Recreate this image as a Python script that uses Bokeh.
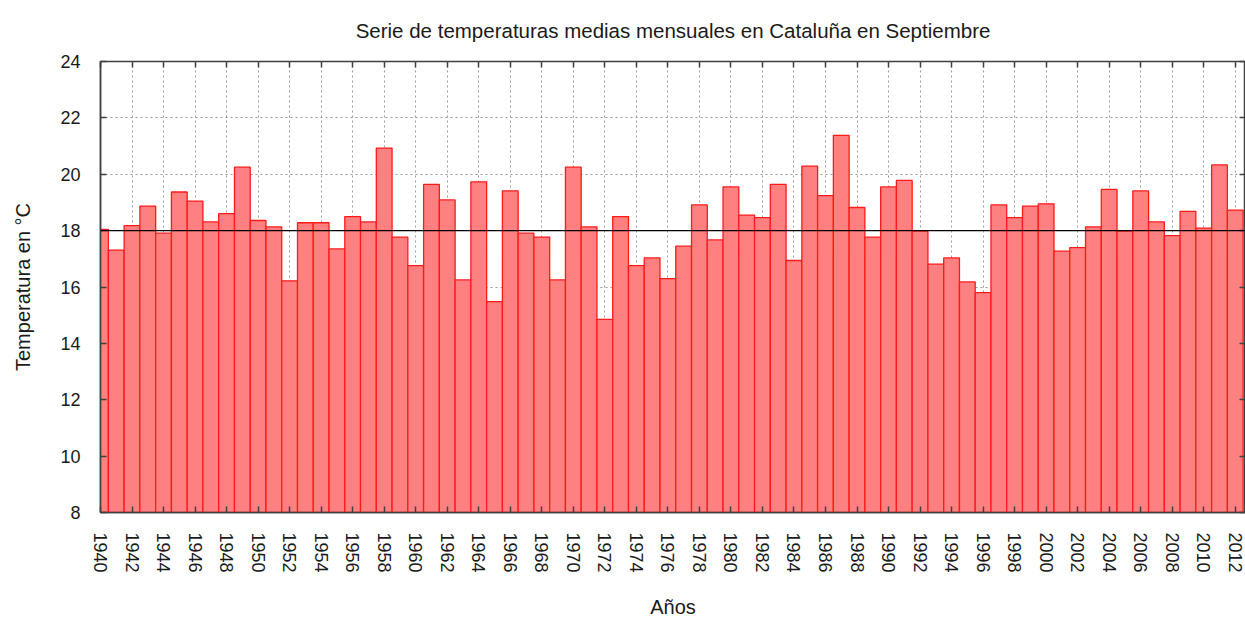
import math
from bokeh.plotting import figure
from bokeh.models import Range1d, FixedTicker, LinearAxis, Span, CustomJSTickFormatter, ColumnDataSource, Title
from bokeh.embed import file_html
from bokeh.resources import INLINE

# ---- data ----
anios = list(range(1940, 2013))
temperaturas = [
    18.04, 17.31, 18.18, 18.87, 17.91, 19.37, 19.05, 18.31, 18.60, 20.25,  # 1940-1949
    18.36, 18.13, 16.22, 18.28, 18.28, 17.35, 18.50, 18.31, 20.93, 17.77,  # 1950-1959
    16.76, 19.64, 19.09, 16.25, 19.73, 15.48, 19.41, 17.91, 17.77, 16.25,  # 1960-1969
    20.25, 18.13, 14.85, 18.50, 16.76, 17.03, 16.30, 17.45, 18.91, 17.67,  # 1970-1979
    19.55, 18.55, 18.46, 19.64, 16.94, 20.29, 19.24, 21.38, 18.82, 17.77,  # 1980-1989
    19.55, 19.78, 17.98, 16.81, 17.03, 16.18, 15.80, 18.91, 18.46, 18.87,  # 1990-1999
    18.95, 17.27, 17.40, 18.13, 19.46, 17.98, 19.41, 18.31, 17.82, 18.68,  # 2000-2009
    18.09, 20.33, 18.73,                                                   # 2010-2012
]
media = 18.0
ticks_x = list(range(1940, 2013, 2))
ticks_y = list(range(8, 25, 2))
titulo = "Serie de temperaturas medias mensuales en Cataluña en Septiembre"
etiqueta_x = "Años"
etiqueta_y = "Temperatura en °C"

FONT = "Liberation Sans"
TXT = "#1a1a1a"
AXC = "#404040"

src = ColumnDataSource(dict(anio=anios, temp=temperaturas))

p = figure(width=1245, height=620, output_backend="svg", toolbar_location=None,
           x_range=Range1d(1940, 2012.65), y_range=Range1d(8, 24),
           min_border_left=100, min_border_right=0, min_border_top=61, min_border_bottom=108,
           x_axis_label=etiqueta_x, y_axis_label=etiqueta_y)

p.outline_line_color = AXC
p.outline_line_width = 1.5

p.vbar(x="anio", top="temp", bottom=8, width=1.0, source=src,
       fill_color="#ff8080", line_color="#ff1a1a", line_width=1.3)

p.add_layout(Span(location=media, dimension="width", line_color="black", line_width=1.2))

for ax in (p.xaxis[0], p.yaxis[0]):
    ax.axis_line_color = AXC
    ax.axis_line_width = 1.5
    ax.major_tick_in = 6
    ax.major_tick_out = 0
    ax.minor_tick_in = 0
    ax.minor_tick_out = 0
    ax.major_tick_line_color = AXC
    ax.major_tick_line_width = 1.5
    ax.major_label_text_font = FONT
    ax.major_label_text_font_size = "18px"
    ax.major_label_text_color = TXT
    ax.axis_label_text_font = FONT
    ax.axis_label_text_font_size = "20px"
    ax.axis_label_text_font_style = "normal"
    ax.axis_label_text_color = TXT

p.xaxis.ticker = FixedTicker(ticks=ticks_x)
p.yaxis.ticker = FixedTicker(ticks=ticks_y)
p.xaxis.major_label_orientation = -math.pi / 2
p.xaxis.major_label_standoff = 20
p.xaxis.axis_label_standoff = 20
p.yaxis.major_label_standoff = 20
p.yaxis.axis_label_standoff = 23

# mirrored ticks (top and right), no labels
blank = CustomJSTickFormatter(code="return ''")
top = LinearAxis(ticker=FixedTicker(ticks=ticks_x), formatter=blank, axis_line_color=None,
                 major_tick_in=6, major_tick_out=0, minor_tick_in=0, minor_tick_out=0,
                 major_tick_line_color=AXC, major_tick_line_width=1.5, major_label_standoff=0,
                 major_label_text_font_size="1px")
p.add_layout(top, "above")
right = LinearAxis(ticker=FixedTicker(ticks=ticks_y), formatter=blank, axis_line_color=None,
                   major_tick_in=6, major_tick_out=0, minor_tick_in=0, minor_tick_out=0,
                   major_tick_line_color=AXC, major_tick_line_width=1.5, major_label_standoff=0,
                   major_label_text_font_size="1px")
p.add_layout(right, "right")

t = Title(text=titulo, align="center", vertical_align="top", text_font=FONT,
          text_font_style="normal", text_font_size="20.5px", text_color=TXT, standoff=35)
p.add_layout(t, "above")

for g, tk in ((p.xgrid, ticks_x), (p.ygrid, ticks_y)):
    g.ticker = FixedTicker(ticks=tk)
    g.grid_line_color = "#9a9a9a"
    g.grid_line_dash = "2 3"
    g.grid_line_width = 1

open("out.html", "w").write(file_html(p, INLINE))
